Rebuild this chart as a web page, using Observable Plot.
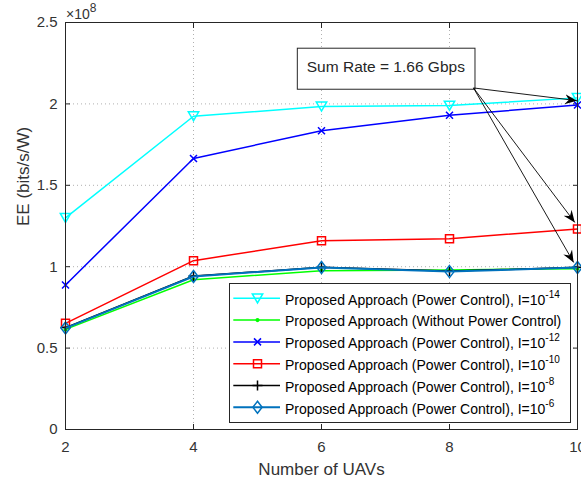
<!DOCTYPE html>
<html><head><meta charset="utf-8">
<script src="https://cdn.jsdelivr.net/npm/d3@7"></script>
<script src="https://cdn.jsdelivr.net/npm/@observablehq/plot@0.6"></script>
<style>
html,body{margin:0;padding:0;background:#fff;}
#chart{position:relative;width:581px;height:483px;overflow:hidden;font-family:"Liberation Sans",Arial,sans-serif;}
#legend{position:absolute;left:229px;top:283px;}
</style></head><body><div id="chart"></div>
<script>
// ---- data (EE in units of 1e8 bits/s/W) ----
const uavs = [2, 4, 6, 8, 10];
const eeI14 = [1.300, 1.924, 1.984, 1.990, 2.037];
const eeNoPC = [0.615, 0.920, 0.975, 0.980, 0.988];
const eeI12 = [0.888, 1.665, 1.835, 1.930, 1.993];
const eeI10 = [0.652, 1.037, 1.160, 1.172, 1.232];
const eeI8 = [0.626, 0.943, 0.996, 0.973, 0.996];
const eeI6 = [0.623, 0.940, 0.995, 0.970, 0.995];

const seriesValues = [eeI14, eeNoPC, eeI12, eeI10, eeI8, eeI6];
const seriesNames = [
  "Proposed Approach (Power Control), I=10",
  "Proposed Approach (Without Power Control)",
  "Proposed Approach (Power Control), I=10",
  "Proposed Approach (Power Control), I=10",
  "Proposed Approach (Power Control), I=10",
  "Proposed Approach (Power Control), I=10"
];
const seriesExp = ["-14", "", "-12", "-10", "-8", "-6"];
const seriesColors = ["#00FFFF", "#00FF00", "#0000FF", "#FF0000", "#000000", "#0072BD"];

const xTicks = [2, 4, 6, 8, 10];
const yTicks = [0, 0.5, 1, 1.5, 2, 2.5];
const xDomain = [2, 10];
const yDomain = [0, 2.5];
const xTitle = "Number of UAVs";
const yTitle = "EE (bits/s/W)";
const yExponent = "8";

const noteText = "Sum Rate = 1.66 Gbps";
const noteBox = [{x1: 5.63, x2: 8.406, y1: 2.087, y2: 2.339}];
const noteTextPos = [{x: 7.005, y: 2.225}];
const noteArrows = [
  {x1: 8.375, y1: 2.098, x2: 9.99, y2: 2.02},
  {x1: 8.375, y1: 2.098, x2: 9.958, y2: 1.272},
  {x1: 8.375, y1: 2.098, x2: 9.94, y2: 1.026}
];

// ---- marker shapes ----
const symTriDown = {draw(c){ c.moveTo(-5.2,-4.4); c.lineTo(5.2,-4.4); c.lineTo(0,4.6); c.closePath(); }};
const symPoint = {draw(c){ c.moveTo(1.3,0); c.arc(0,0,1.3,0,2*Math.PI); }};
const symTimes = {draw(c){ c.moveTo(-3.5,-3.5); c.lineTo(3.5,3.5); c.moveTo(-3.5,3.5); c.lineTo(3.5,-3.5); }};
const symSquare = {draw(c){ c.moveTo(-4,-4); c.lineTo(4,-4); c.lineTo(4,4); c.lineTo(-4,4); c.closePath(); }};
const symPlus = {draw(c){ c.moveTo(-5,0); c.lineTo(5,0); c.moveTo(0,-5); c.lineTo(0,5); }};
const symDiamond = {draw(c){ c.moveTo(0,-6); c.lineTo(4.6,0); c.lineTo(0,6); c.lineTo(-4.6,0); c.closePath(); }};
const seriesSymbols = [symTriDown, symPoint, symTimes, symSquare, symPlus, symDiamond];
const seriesFilled = [false, true, false, false, false, false];
const seriesWidths = [1.5, 1.5, 1.5, 1.5, 1.5, 2];

const ink = "#262626";
const tickInk = "#333333";
const font = "'Liberation Sans', Arial, Helvetica, sans-serif";

const seriesMarks = [];
seriesValues.forEach((vals, k) => {
  const rows = uavs.map((x, i) => ({x, y: vals[i]}));
  seriesMarks.push(Plot.line(rows, {x: "x", y: "y", stroke: seriesColors[k], strokeWidth: seriesWidths[k]}));
  seriesMarks.push(Plot.dot(rows, {x: "x", y: "y", symbol: seriesSymbols[k],
    stroke: seriesColors[k], fill: seriesFilled[k] ? seriesColors[k] : "none", strokeWidth: 1.5}));
});

const chart = Plot.plot({
  width: 581, height: 483,
  marginLeft: 65, marginRight: 4, marginTop: 22, marginBottom: 54,
  x: {domain: xDomain, axis: null},
  y: {domain: yDomain, axis: null},
  style: {fontFamily: font, fontSize: "15px", color: ink, background: "white", overflow: "visible"},
  marks: [
    Plot.gridX(xTicks, {stroke: "#b0b0b0", strokeOpacity: 1, strokeDasharray: "1,3"}),
    Plot.gridY(yTicks, {stroke: "#b0b0b0", strokeOpacity: 1, strokeDasharray: "1,3"}),
    Plot.axisX({ticks: xTicks, tickSize: -5, tickPadding: 17, label: null, fontSize: 15, fill: tickInk, fontWeight: "normal"}),
    Plot.axisY({ticks: yTicks, tickSize: -5, tickPadding: 13, label: null, fontSize: 15, fill: tickInk, fontWeight: "normal", tickFormat: d => String(d)}),
    Plot.axisX({anchor: "top", ticks: xTicks, tickSize: -5, tickFormat: () => "", label: null}),
    Plot.axisY({anchor: "right", ticks: yTicks, tickSize: -5, tickFormat: () => "", label: null}),
    ...seriesMarks,
    Plot.rect(noteBox, {x1: "x1", x2: "x2", y1: "y1", y2: "y2", fill: "white", stroke: ink, strokeWidth: 1}),
    Plot.text(noteTextPos, {x: "x", y: "y", text: () => noteText, fontSize: 15.5, fill: ink}),
    Plot.link(noteArrows, {x1: "x1", y1: "y1", x2: "x2", y2: "y2", stroke: "#000", strokeWidth: 0.9}),
    Plot.text([xTitle], {frameAnchor: "bottom", dy: 45, lineAnchor: "bottom", fontSize: 17, fill: tickInk}),
    Plot.text([yTitle], {frameAnchor: "left", dx: -37, rotate: -90, lineAnchor: "bottom", fontSize: 17, fill: tickInk}),
    Plot.frame({stroke: ink, strokeWidth: 1})
  ]
});
document.getElementById("chart").appendChild(chart);

const svg = d3.select(chart);
// drop the empty labels of the tick-only (top/right) axes
svg.selectAll("text").filter(function() { return this.textContent.trim() === ""; }).remove();

// arrowheads on annotation links
const defs = svg.append("defs");
defs.append("marker").attr("id", "ahead").attr("viewBox", "-12 -6 13 12")
  .attr("refX", 0).attr("refY", 0).attr("markerWidth", 13).attr("markerHeight", 12)
  .attr("markerUnits", "userSpaceOnUse").attr("orient", "auto")
  .append("path").attr("d", "M0,0 L-12,-5 L-8,0 L-12,5 Z").attr("fill", "#000");
svg.selectAll("g[aria-label='link'] path").attr("marker-end", "url(#ahead)");

// exponent label
const ex = svg.append("text").attr("x", 66).attr("y", 19).attr("font-size", 14)
  .attr("text-anchor", "start")
  .attr("fill", tickInk).attr("font-family", font);
ex.append("tspan").text("\u00d710");
ex.append("tspan").attr("dy", -7).attr("font-size", 12).text(yExponent);

// legend
const lw = 341, lh = 139, rowH = 21.8, row0 = 15.3;
const leg = d3.select("#chart").append("svg").attr("id", "legend")
  .attr("width", lw + 1).attr("height", lh + 1)
  .style("font-family", font);
leg.append("rect").attr("x", 0.5).attr("y", 0.5).attr("width", lw).attr("height", lh)
  .attr("fill", "white").attr("stroke", ink);
seriesNames.forEach((name, k) => {
  const yy = row0 + k * rowH;
  const g = leg.append("g");
  g.append("line").attr("x1", 4.3).attr("x2", 51).attr("y1", yy).attr("y2", yy)
    .attr("stroke", seriesColors[k]).attr("stroke-width", seriesWidths[k]);
  g.append("path").attr("d", d3.symbol(seriesSymbols[k])())
    .attr("transform", `translate(28.5,${yy})`)
    .attr("stroke", seriesColors[k]).attr("stroke-width", 1.5)
    .attr("fill", seriesFilled[k] ? seriesColors[k] : "none");
  const t = g.append("text").attr("x", 56).attr("y", yy + 6.3).attr("font-size", 14).attr("fill", "#000");
  t.append("tspan").text(name);
  if (seriesExp[k]) t.append("tspan").attr("dy", -7).attr("font-size", 10).text(seriesExp[k]);
});
</script></body></html>
